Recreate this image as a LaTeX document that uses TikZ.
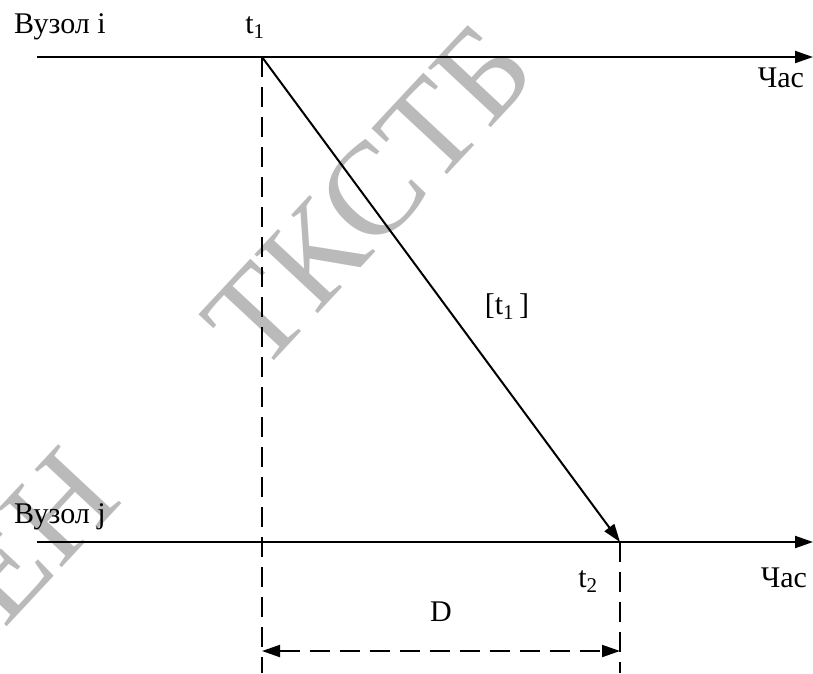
\documentclass[tikz,border=0pt]{standalone}
\usepackage{fontspec}
\setmainfont{Liberation Serif}
\usetikzlibrary{arrows.meta}
\begin{document}
\begin{tikzpicture}[x=1pt,y=-1pt,line width=2pt,
  lbl/.style={font=\fontsize{30}{35}\selectfont,inner sep=0pt},
  wmark/.style={font=\fontsize{132}{132}\selectfont,text=black!27,inner sep=0pt,rotate=47},
  tipend/.style={-{Triangle[length=18pt,width=12pt]}},
  tipboth/.style={{Triangle[length=18pt,width=12pt]}-{Triangle[length=18pt,width=12pt]}},
  dsh/.style={dash pattern=on 20pt off 10pt}]
\useasboundingbox (0,0) rectangle (813,673);
\begin{scope}
  \clip (0,0) rectangle (813,673);
  \node[wmark] (wm1) at (369,196) {ТКСТБ};
  \node[wmark] (wm2) at (33,536) {ЕН};
\end{scope}
% coordinates
\coordinate (ai) at (37,57);
\coordinate (bi) at (813,57);
\coordinate (aj) at (37,542);
\coordinate (bj) at (813,542);
\coordinate (t1) at (262,57);
\coordinate (t2) at (620,542);
\coordinate (t1b) at (262,673);
\coordinate (t2b) at (620,673);
\coordinate (d1) at (262,651);
\coordinate (d2) at (620,651);
% axes
\draw[tipend] (ai) -- (bi);
\draw[tipend] (aj) -- (bj);
% dashed verticals
\draw[dsh] (t1) -- (t1b);
\draw[dsh] (t2) -- (t2b);
% message
\draw[tipend] (t1) -- (t2);
% D
\draw[dsh,tipboth] (d1) -- (d2);
% labels
\node[lbl,anchor=base west] (ni) at (13,33) {Вузол i};
\node[lbl,anchor=base west] (nj) at (13,523) {Вузол j};
\node[lbl,anchor=base] (lt1) at (255,33) {t\textsubscript{1}};
\node[lbl,anchor=base] (lt2) at (588,587) {t\textsubscript{2}};
\node[lbl,anchor=base east] (c1) at (805,87) {Час};
\node[lbl,anchor=base east] (c2) at (808,587) {Час};
\node[lbl,anchor=base] (lm) at (507,314) {[t\textsubscript{1}\,]};
\node[lbl,anchor=base] (ld) at (441,621) {D};
\end{tikzpicture}
\end{document}
